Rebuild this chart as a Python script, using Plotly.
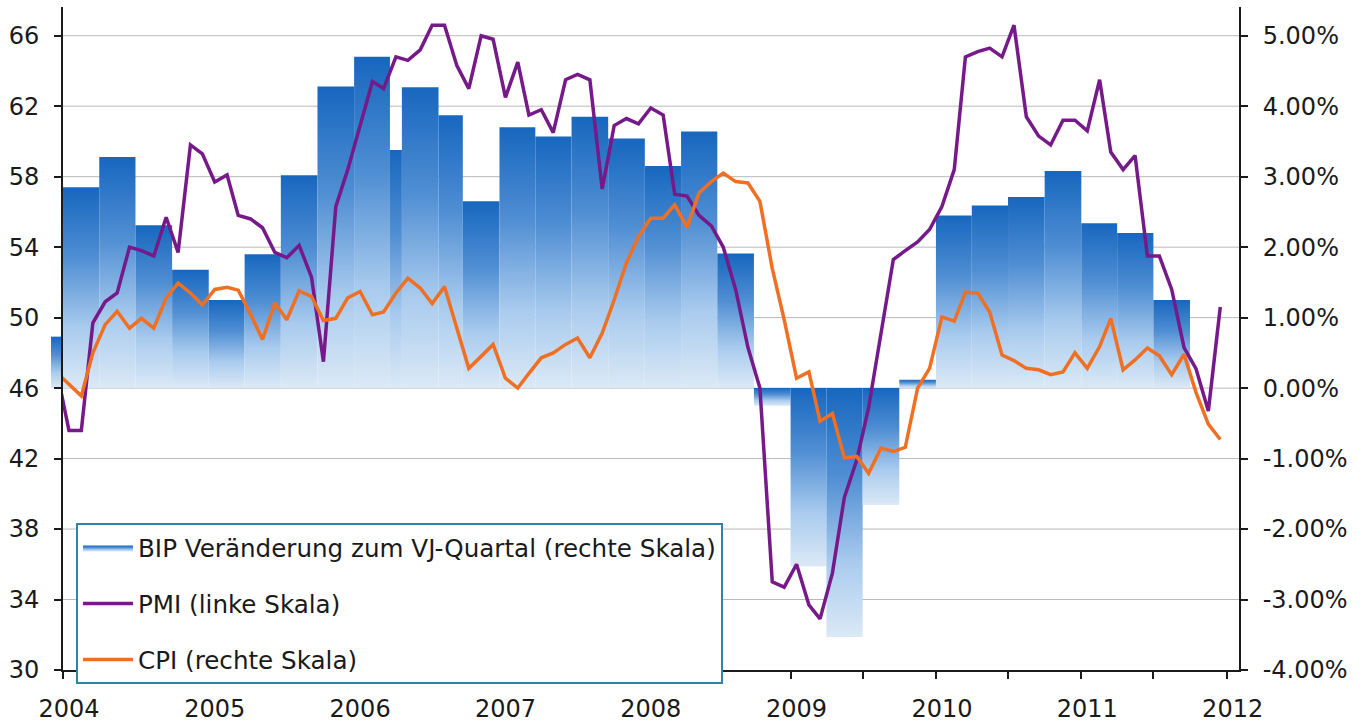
import pandas as pd
import plotly.graph_objects as go

# ---------------- data (monthly, first entry = Dec 2003) ----------------
month_start = "2003-12-01"

# GDP change vs. prior-year quarter, % (right scale), shown per month
gdp = [0.73,
       2.85, 2.85, 2.85, 3.28, 3.28, 3.28, 2.31, 2.31, 2.31, 1.68, 1.68, 1.68,
       1.25, 1.25, 1.25, 1.90, 1.90, 1.90, 3.02, 3.02, 3.02, 4.28, 4.28, 4.28,
       4.70, 4.70, 4.70, 3.38, 4.27, 4.27, 4.27, 3.87, 3.87, 2.65, 2.65, 2.65,
       3.70, 3.70, 3.70, 3.57, 3.57, 3.57, 3.85, 3.85, 3.85, 3.54, 3.54, 3.54,
       3.15, 3.15, 3.15, 3.64, 3.64, 3.64, 1.91, 1.91, 1.91, -0.25, -0.25, -0.25,
       -2.53, -2.53, -2.53, -3.53, -3.53, -3.53, -1.66, -1.66, -1.66, 0.12, 0.12, 0.12,
       2.45, 2.45, 2.45, 2.59, 2.59, 2.59, 2.71, 2.71, 2.71, 3.08, 3.08, 3.08,
       2.34, 2.34, 2.34, 2.20, 2.20, 2.20, 1.25, 1.25, 1.25, None, None, None]

# PMI (left scale)
pmi = [47.0, 43.6, 43.6, 49.7, 50.9, 51.4, 54.0, 53.8, 53.5, 55.7,
       53.7, 59.8, 59.3, 57.7, 58.1, 55.8, 55.6, 55.1, 53.7, 53.4,
       54.1, 52.3, 47.5, 56.3, 58.4, 60.9, 63.4, 63.0, 64.8, 64.6,
       65.2, 66.6, 66.6, 64.3, 63.0, 66.0, 65.8, 62.5, 64.5, 61.5,
       61.8, 60.5, 63.5, 63.8, 63.5, 57.3, 60.9, 61.3, 61.0, 61.9,
       61.5, 57.0, 56.9, 55.8, 55.2, 54.0, 51.6, 48.3, 46.0, 35.0,
       34.7, 36.0, 33.7, 32.9, 35.5, 39.8, 41.9, 44.9, 49.2, 53.3,
       53.8, 54.3, 55.0, 56.3, 58.4, 64.8, 65.1, 65.3, 64.8, 66.6,
       61.4, 60.3, 59.8, 61.2, 61.2, 60.6, 63.5, 59.4, 58.4, 59.2,
       53.5, 53.5, 51.6, 48.3, 47.1, 44.7, 50.6]

# CPI, % (right scale)
cpi = [0.22, 0.05, -0.11, 0.50, 0.90, 1.09, 0.85, 0.99, 0.85, 1.28,
       1.49, 1.35, 1.18, 1.40, 1.43, 1.39, 1.05, 0.69, 1.21, 0.97,
       1.38, 1.30, 0.96, 0.99, 1.28, 1.37, 1.04, 1.08, 1.35, 1.56,
       1.42, 1.20, 1.44, 0.85, 0.28, 0.45, 0.62, 0.14, 0.00, 0.21,
       0.43, 0.50, 0.62, 0.71, 0.43, 0.78, 1.25, 1.78, 2.15, 2.41,
       2.41, 2.60, 2.28, 2.77, 2.93, 3.05, 2.93, 2.91, 2.65, 1.70,
       0.97, 0.14, 0.23, -0.47, -0.36, -0.99, -0.97, -1.21, -0.85, -0.90,
       -0.84, 0.00, 0.28, 1.01, 0.95, 1.36, 1.35, 1.08, 0.47, 0.39,
       0.28, 0.26, 0.19, 0.23, 0.50, 0.28, 0.59, 0.99, 0.26, 0.40,
       0.57, 0.46, 0.19, 0.48, -0.06, -0.51, -0.73]

left_ticks = [30, 34, 38, 42, 46, 50, 54, 58, 62, 66]
right_ticks = [-4, -3, -2, -1, 0, 1, 2, 3, 4, 5]
right_labels = ["-4.00%", "-3.00%", "-2.00%", "-1.00%", "0.00%",
                "1.00%", "2.00%", "3.00%", "4.00%", "5.00%"]
year_labels = ["2004", "2005", "2006", "2007", "2008", "2009", "2010", "2011", "2012"]

name_bip = "BIP Veränderung zum VJ-Quartal (rechte Skala)"
name_pmi = "PMI (linke Skala)"
name_cpi = "CPI (rechte Skala)"

# ---------------- geometry / styles ----------------
W, H = 1365, 724
ML, MR, MT, MB = 51, 126, 7, 54
plot_w = W - ML - MR
plot_h = H - MT - MB
offset_px = 12  # bars start one month before the visible axis

L_RANGE = [30, 67.63]
R_RANGE = [(v - 46) / 4 for v in L_RANGE]

n = len(pmi)
edges = pd.date_range(month_start, periods=n + 1, freq="MS")
mids = edges[:-1] + pd.Timedelta(days=15)

x2_start = pd.Timestamp("2004-01-01")
x_end = pd.Timestamp("2012-02-01")
x_start = x_end - (x_end - x2_start) * (plot_w / (plot_w - offset_px))

FONT = "DejaVu Sans"
INK = "#1a1a1a"
bar_scale = [[0.0, "#dbe9f6"], [0.3, "#a9cbee"], [0.65, "#4f8ed3"], [1.0, "#1767bf"]]

fig = go.Figure()

# bars: merge consecutive months with equal value into one block
blocks = []
i = 0
while i < n:
    v = gdp[i]
    if v is None:
        i += 1
        continue
    j = i
    while j + 1 < n and gdp[j + 1] == v:
        j += 1
    blocks.append((i, j + 1, v))
    i = j + 1

for k, (i0, i1, v) in enumerate(blocks):
    x0, x1 = edges[i0], edges[i1]
    fig.add_trace(go.Scatter(
        x=[x0, x0, x1, x1, x0], y=[0, v, v, 0, 0],
        mode="lines", fill="toself", line=dict(width=0, color="#1767bf"),
        fillgradient=dict(type="vertical", colorscale=bar_scale),
        xaxis="x", yaxis="y", name=name_bip, legendgroup="bip",
        showlegend=(k == 0), hoverinfo="skip"))

fig.add_trace(go.Scatter(
    x=mids, y=pmi, mode="lines", line=dict(color="#761a8a", width=3.5),
    xaxis="x2", yaxis="y2", name=name_pmi, legendgroup="pmi"))
fig.add_trace(go.Scatter(
    x=mids, y=cpi, mode="lines", line=dict(color="#f07023", width=3.5),
    xaxis="x2", yaxis="y3", name=name_cpi, legendgroup="cpi"))

# gridlines under everything
shapes = []
for v in left_ticks[1:]:
    shapes.append(dict(type="line", xref="paper", x0=offset_px / plot_w, x1=1,
                       yref="y2", y0=v, y1=v, layer="below",
                       line=dict(color="#b9b9b9", width=1)))

tickfont = dict(family=FONT, size=24, color=INK)
year_dates = [pd.Timestamp(f"{y}-01-01") for y in year_labels]
half_dates = [pd.Timestamp(f"{y}-07-01") for y in year_labels[:-1]]

fig.update_layout(
    width=W, height=H,
    margin=dict(l=ML, r=MR, t=MT, b=MB, pad=0, autoexpand=False),
    paper_bgcolor="white", plot_bgcolor="rgba(0,0,0,0)",
    showlegend=True,
    shapes=shapes,
    xaxis=dict(domain=[0, 1], range=[x_start, x_end], type="date",
               visible=False, automargin=False),
    yaxis=dict(domain=[0, 1], range=R_RANGE, visible=False, automargin=False),
    xaxis2=dict(domain=[offset_px / plot_w, 1], anchor="y2", type="date",
                range=[x2_start, x_end], tickmode="array", tickvals=year_dates,
                ticktext=year_labels, ticks="outside", ticklen=7, tickwidth=1.5,
                tickcolor=INK, showline=True, linecolor=INK, linewidth=1.8,
                showgrid=False, zeroline=False, tickfont=tickfont, automargin=False,
                ticklabelshift=6, ticklabelstandoff=9,
                minor=dict(tickmode="array", tickvals=half_dates, ticks="outside",
                           ticklen=7, tickwidth=1.5, tickcolor=INK, showgrid=False)),
    yaxis2=dict(domain=[0, 1], anchor="x2", range=L_RANGE, tickmode="array",
                tickvals=left_ticks, ticks="outside", ticklen=7, tickwidth=1.5,
                tickcolor=INK, showline=True, linecolor=INK, linewidth=1.8,
                showgrid=False, zeroline=False, tickfont=tickfont, automargin=False,
                ticklabelstandoff=10),
    yaxis3=dict(anchor="x2", overlaying="y2", side="right", range=R_RANGE,
                tickmode="array", tickvals=right_ticks, ticktext=right_labels,
                ticks="outside", ticklen=7, tickwidth=1.5, tickcolor=INK,
                showline=True, linecolor=INK, linewidth=1.8, showgrid=False,
                zeroline=False, tickfont=tickfont, automargin=False,
                ticklabelstandoff=10),
    legend=dict(x=(76 - ML) / plot_w, y=(H - MB - 523) / plot_h,
                xanchor="left", yanchor="top", bgcolor="white",
                bordercolor="#2f83a6", borderwidth=2,
                font=dict(family=FONT, size=24.6, color=INK),
                traceorder="grouped", tracegroupgap=21, itemwidth=50),
)

fig.write_html(
    "out.html",
    config={"displayModeBar": False},
    post_script="document.body.style.margin='0px';"
                "document.body.style.padding='0px';"
                "document.body.style.overflow='hidden';")
